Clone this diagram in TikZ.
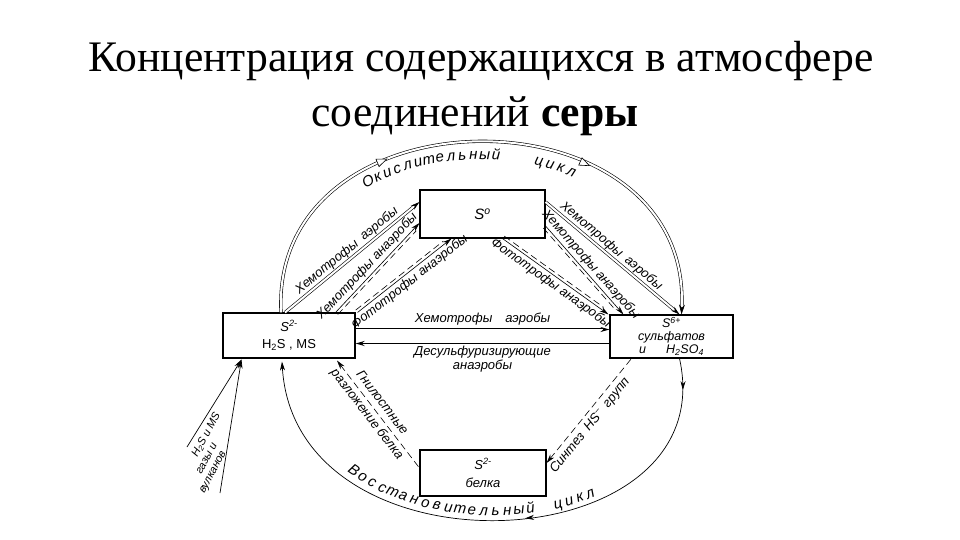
\documentclass[tikz,border=0pt]{standalone}
\usepackage{fontspec}
\setmainfont{Liberation Serif}
\setsansfont{Liberation Sans}
\usetikzlibrary{arrows.meta}
\usetikzlibrary{calc}
\usetikzlibrary{decorations.markings}

\tikzset{
  title/.style={font=\fontsize{43.6}{50}\selectfont, inner sep=0pt},
  box/.style={draw, line width=1.1pt, inner sep=0pt, align=center, font=\sffamily\itshape\fontsize{13}{14}\selectfont},
  lbl/.style={font=\sffamily\itshape\fontsize{13}{14}\selectfont, inner sep=2pt},
  arcup/.style={font=\sffamily\itshape\fontsize{15}{16}\selectfont, sloped, anchor=north, inner xsep=0pt, inner ysep=10pt, text height=1.5ex, text depth=0.25ex},
  arcdn/.style={font=\sffamily\itshape\fontsize{15}{16}\selectfont, sloped, anchor=south, inner xsep=0pt, inner ysep=3pt, text height=1.5ex, text depth=0.25ex},
  tip/.style={-{Stealth[length=9pt, width=5pt]}},
  dbl/.style={double, double distance=2pt, line width=0.6pt},
  dsh/.style={line width=0.6pt, dash pattern=on 7pt off 4pt},
  opentri/.style={draw, fill=white, line width=0.6pt}
}

\begin{document}
\begin{tikzpicture}[x=1pt, y=-1pt]
  \path[use as bounding box, fill=white] (0,0) rectangle (960,540);

  \node[title, anchor=base] (t1) at (481,72) {Концентрация содержащихся в атмосфере};
  \node[title, anchor=base] (t2) at (475,127) {соединений \textbf{серы}};

  \node[box, minimum width=132pt, minimum height=45pt] (sl) at (289,335.5) {S\textsuperscript{2-}\\[3pt]{\upshape H\textsubscript{2}S , MS}};
  \node[box, minimum width=125pt, minimum height=48pt, font=\sffamily\itshape\fontsize{15}{16}\selectfont] (s0) at (482.5,214) {S\textsuperscript{o}};
  \node[box, minimum width=123pt, minimum height=43pt, font=\sffamily\itshape\fontsize{12.5}{13}\selectfont] (sr) at (671.5,336.5) {S\textsuperscript{6+}\\сульфатов\\и\hspace{1.6em}H\textsubscript{2}SO\textsubscript{4}};
  \node[box, minimum width=126pt, minimum height=46pt] (sb) at (483,473) {S\textsuperscript{2-}\\[4pt]белка};

  \coordinate (ta) at ($(sl.north)+(-8,0)$);
  \coordinate (tb) at ($(sr.north)+(10,0)$);
  \draw[dbl, -{Stealth[length=10pt, width=6pt]}] (ta) .. controls (270,85) and (692,85) .. (tb);
  \path[decorate, decoration={markings,
      mark=at position 0.33 with {\draw[opentri] (-6pt,-4pt) -- (4pt,0pt) -- (-6pt,4pt) -- cycle;},
      mark=at position 0.68 with {\draw[opentri] (-6pt,-4pt) -- (4pt,0pt) -- (-6pt,4pt) -- cycle;}}]
    (ta) .. controls (270,85) and (692,85) .. (tb);
  \path (ta) .. controls (270,85) and (692,85) .. (tb)
    foreach \ch [count=\i, evaluate=\i as \p using 0.276+0.0192*\i] in {О,к,и,с,л,и,т,е,л,ь,н,ы,й} {node[arcup, pos=\p] (ox\i) {\ch}}
    foreach \ch [count=\i, evaluate=\i as \p using 0.58+0.02*\i] in {ц,и,к,л} {node[arcup, pos=\p] (oc\i) {\ch}};

  \coordinate (ba) at ($(sl.south)+(-7,3)$);
  \coordinate (bb) at ($(sr.south)+(8,0)$);
  \draw[{Stealth[length=9pt, width=5pt]}-, line width=0.7pt, postaction={decorate}, decoration={markings,
      mark=at position 0.56 with {\arrowreversed{Stealth[length=9pt, width=5pt]}},
      mark=at position 0.945 with {\arrowreversed{Stealth[length=9pt, width=5pt]}}}]
    (ba) .. controls (295,583) and (725,563) .. (bb);
  \path (ba) .. controls (295,583) and (725,563) .. (bb)
    foreach \ch [count=\i, evaluate=\i as \p using 0.2155+0.0195*\i] in {В,о,с,с,т,а,н,о,в,и,т,е,л,ь,н,ы,й} {node[arcdn, pos=\p] (vx\i) {\ch}}
    foreach \ch [count=\i, evaluate=\i as \p using 0.575+0.02*\i] in {ц,и,к,л} {node[arcdn, pos=\p] (vc\i) {\ch}};

  \draw[tip, dbl] ($(sl.north)+(-4,0)$) -- ($(s0.west)+(0,-12)$) node[lbl, midway, sloped, above] (l1) {Хемотрофы\enspace аэробы};

  \coordinate (a2s) at ($(sl.north east)+(-20,0)$);
  \coordinate (a2e) at ($(s0.west)+(0,9)$);
  \draw[tip, line width=0.6pt] (a2s) -- (a2e) node[lbl, pos=0.45, sloped, above] (l2) {Хемотрофы анаэробы};
  \draw[dsh, shorten >=8pt] ($(a2s)!3pt!-90:(a2e)$) -- ($(a2e)!3pt!90:(a2s)$);

  \coordinate (a3s) at ($(sl.north east)+(2,0)$);
  \coordinate (a3e) at ($(s0.south west)+(32,0)$);
  \draw[tip, line width=0.6pt] (a3s) -- (a3e) node[lbl, midway, sloped, below] (l3) {Фототрофы анаэробы};
  \draw[dsh, shorten >=8pt] ($(a3s)!3pt!90:(a3e)$) -- ($(a3e)!3pt!-90:(a3s)$);

  \draw[tip, dbl] ($(s0.east)+(0,-12)$) -- ($(sr.north)+(8,0)$) node[lbl, pos=0.45, sloped, above] (l4) {Хемотрофы\enspace аэробы};

  \coordinate (a5s) at ($(s0.east)+(0,12)$);
  \coordinate (a5e) at ($(sr.north west)+(14,0)$);
  \draw[tip, line width=0.6pt] (a5s) -- (a5e) node[lbl, midway, sloped, above] (l5) {Хемотрофы анаэробы};
  \draw[dsh, shorten >=8pt] ($(a5s)!3pt!-90:(a5e)$) -- ($(a5e)!3pt!90:(a5s)$);

  \coordinate (a6s) at ($(s0.south)+(20,0)$);
  \coordinate (a6e) at ($(sr.north west)+(-1,0)$);
  \draw[tip, line width=0.6pt] (a6s) -- (a6e) node[lbl, midway, sloped, below] (l6) {Фототрофы анаэробы};
  \draw[dsh, shorten >=8pt] ($(a6s)!3pt!90:(a6e)$) -- ($(a6e)!3pt!-90:(a6s)$);

  \draw[tip, dbl, line width=0.8pt] ($(sl.east)+(0,-6)$) -- ($(sr.west)+(0,-7)$) node[lbl, midway, above=2pt] (l7) {Хемотрофы\quad аэробы};
  \draw[tip, line width=1.6pt] ($(sr.west)+(0,7)$) -- ($(sl.east)+(0,8)$) node[lbl, midway, below, align=center] (l8) {Десульфуризирующие\\анаэробы};

  \draw[{Stealth[length=9pt, width=5pt]}-, dsh] ($(sb.east)+(0,-10)$) -- ($(sr.south west)+(22,0)$) node[lbl, pos=0.42, sloped, below=2pt] (l9) {Синтез\enspace HS\textsuperscript{--}\enspace групп};
  \draw[{Stealth[length=9pt, width=5pt]}-, dsh] ($(sl.south)+(48,2)$) -- ($(sb.west)+(0,-5)$) node[lbl, pos=0.45, sloped, align=center] (l10) {Гнилостные\\[5pt]разложение белка};

  \coordinate (g1) at (187,447);
  \coordinate (g2) at (220,493);
  \draw[tip, line width=0.7pt] (g1) -- ($(sl.south west)+(19,1)$);
  \draw[tip, line width=0.7pt] (g2) -- ($(sl.south west)+(19,1)$);
  \node[lbl, rotate=62, align=left, font=\sffamily\itshape\fontsize{11}{11.5}\selectfont] (gas) at (210,453) {\hspace{2.6em}H\textsubscript{2}S и MS\\\hspace{1.4em}газы и\\вулканов};
\end{tikzpicture}
\end{document}
